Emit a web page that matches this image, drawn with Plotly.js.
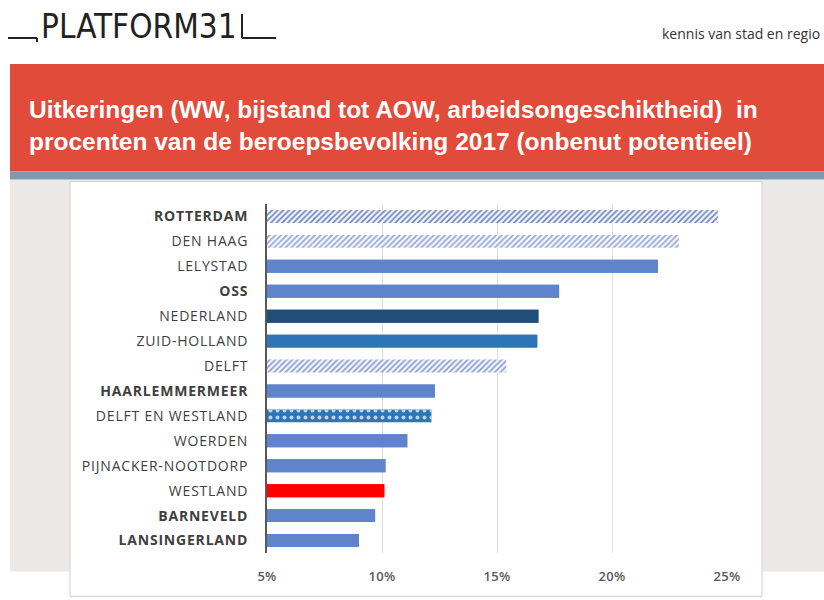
<!DOCTYPE html>
<html>
<head>
<meta charset="utf-8">
<script src="https://cdn.plot.ly/plotly-3.0.1.min.js"></script>
<style>
  html, body { margin: 0; padding: 0; background: #ffffff; }
  #chart { width: 824px; height: 600px; }
  #chart .ytick text { letter-spacing: 0.8px; }
  #chart .xtick text { letter-spacing: 0.3px; }
</style>
</head>
<body>
<div id="chart"></div>
<script>
// ---- data ----
var categories = ["ROTTERDAM", "DEN HAAG", "LELYSTAD", "OSS", "NEDERLAND", "ZUID-HOLLAND", "DELFT",
  "HAARLEMMERMEER", "DELFT EN WESTLAND", "WOERDEN", "PIJNACKER-NOOTDORP", "WESTLAND", "BARNEVELD", "LANSINGERLAND"];
var values = [24.6, 22.9, 22.0, 17.7, 16.8, 16.75, 15.4, 12.3, 12.15, 11.1, 10.15, 10.1, 9.7, 9.0];
var boldLabels = ["ROTTERDAM", "OSS", "HAARLEMMERMEER", "BARNEVELD", "LANSINGERLAND"];
var xTickValues = [5, 10, 15, 20, 25];
var xTickLabels = ["5%", "10%", "15%", "20%", "25%"];
var titleText = "Uitkeringen (WW, bijstand tot AOW, arbeidsongeschiktheid)  in<br>procenten van de beroepsbevolking 2017 (onbenut potentieel)";

// ---- styles per bar ----
// base fill of every bar
var baseColors = ["#f3f5fb", "#f6f7fc", "#5f84cc", "#5f84cc", "#1f4e79", "#2e75b6", "#f3f5fb",
  "#5f84cc", "#2e75b6", "#5f84cc", "#5f84cc", "#ff0000", "#5f84cc", "#5f84cc"];
// pattern layer drawn on top
var patShapes = ["/", "/", "", "", "", "", "/", "", ".", "", "", "", "", ""];
var patColors = ["#6c82c2", "#93a5d8", "#5f84cc", "#5f84cc", "#1f4e79", "#2e75b6", "#879cd3",
  "#5f84cc", "rgba(235,242,252,0.75)", "#5f84cc", "#5f84cc", "#ff0000", "#5f84cc", "#5f84cc"];
var patSize = [4, 4, 4, 4, 4, 4, 4, 4, 7, 4, 4, 4, 4, 4];
var patSolidity = [0.4, 0.4, 0.4, 0.4, 0.4, 0.4, 0.4, 0.4, 0.25, 0.4, 0.4, 0.4, 0.4, 0.4];

var tickText = categories.map(function (c) {
  return boldLabels.indexOf(c) >= 0 ? "<b>" + c + "</b>" : c;
});

// ---- geometry helpers (pixel -> paper) ----
var W = 824, H = 600;
var ML = 267, MR = 97, MT = 203.5, MB = 46.5;
var PW = W - ML - MR, PH = H - MT - MB;
function px(x) { return (x - ML) / PW; }
function py(y) { return (H - MB - y) / PH; }

function rect(x0, y0, x1, y1, fill, line) {
  return { type: "rect", xref: "paper", yref: "paper", layer: "below",
    x0: px(x0), x1: px(x1), y0: py(y1), y1: py(y0),
    fillcolor: fill, line: line || { width: 0 } };
}
function seg(x0, y0, x1, y1, color, w) {
  return { type: "line", xref: "paper", yref: "paper", layer: "above",
    x0: px(x0), x1: px(x1), y0: py(y0), y1: py(y1),
    line: { color: color, width: w } };
}

var shapes = [
  rect(10, 179, 824, 572, "#ebe8e8"),
  rect(70, 181, 762, 597, "#ffffff", { color: "#cfcfcf", width: 1 }),
  rect(10, 63, 824, 171, "#e04c39"),
  rect(10, 171, 824, 179, "#8199ae"),
  // logo strokes
  seg(8, 37, 37, 37, "#222222", 2),
  seg(37, 37, 37, 41, "#222222", 2),
  seg(242, 13, 242, 37, "#222222", 2),
  seg(242, 37, 276, 37, "#222222", 2)
];

var annotations = [
  { xref: "paper", yref: "paper", x: px(39), y: py(25), xanchor: "left", yanchor: "middle",
    text: "PLATFORM31", showarrow: false,
    font: { family: "Liberation Sans Narrow, DejaVu Sans Condensed, sans-serif", size: 33, color: "#222222" } },
  { xref: "paper", yref: "paper", x: px(660), y: py(33), xanchor: "left", yanchor: "middle",
    text: "kennis van stad en regio", showarrow: false,
    font: { family: "Open Sans, sans-serif", size: 14, color: "#333333" } }
];

var baseTrace = {
  type: "bar",
  orientation: "h",
  y: categories,
  x: values,
  width: 0.52,
  marker: { color: baseColors, line: { width: 0 } },
  hoverinfo: "skip"
};

var patternTrace = {
  type: "bar",
  orientation: "h",
  y: categories,
  x: values,
  width: 0.52,
  marker: {
    color: patColors,
    line: { width: 0 },
    pattern: {
      shape: patShapes,
      fillmode: "replace",
      size: patSize,
      solidity: patSolidity
    }
  },
  hoverinfo: "skip"
};

var layout = {
  width: W, height: H,
  margin: { l: ML, r: MR, t: MT, b: MB, pad: 0 },
  paper_bgcolor: "#ffffff",
  plot_bgcolor: "rgba(0,0,0,0)",
  showlegend: false,
  barmode: "overlay",
  title: {
    text: titleText,
    xref: "container", yref: "container",
    x: 29 / W, y: 1 - 118 / H,
    xanchor: "left", yanchor: "middle",
    font: { family: "Liberation Sans, Arial, sans-serif", size: 24.5, color: "#ffffff", weight: "bold" }
  },
  xaxis: {
    range: [5, 25],
    tickvals: xTickValues,
    ticktext: xTickLabels,
    showgrid: true,
    gridcolor: "#dedede",
    gridwidth: 1,
    zeroline: false,
    showline: false,
    ticks: "",
    ticklabelstandoff: 14,
    tickfont: { family: "Open Sans, sans-serif", size: 13, color: "#595959", weight: 600 },
    fixedrange: true
  },
  yaxis: {
    type: "category",
    categoryorder: "array",
    categoryarray: categories,
    tickvals: categories,
    ticktext: tickText,
    autorange: "reversed",
    showline: true,
    linecolor: "#595959",
    linewidth: 2,
    showgrid: false,
    ticks: "",
    ticklabelstandoff: 14,
    tickfont: { family: "Open Sans, sans-serif", size: 14, color: "#404040" },
    fixedrange: true
  },
  shapes: shapes,
  annotations: annotations
};

Plotly.newPlot("chart", [baseTrace, patternTrace], layout, { staticPlot: true, displayModeBar: false });
</script>
</body>
</html>
